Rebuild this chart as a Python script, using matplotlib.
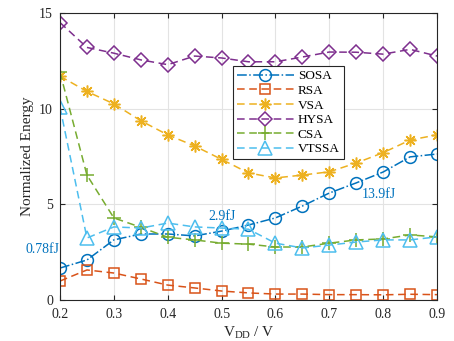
import numpy as np
import matplotlib.pyplot as plt

plt.rcParams['font.family'] = ['Liberation Serif', 'DejaVu Serif']
plt.rcParams['mathtext.fontset'] = 'custom'
plt.rcParams['mathtext.rm'] = 'Liberation Serif'

# supply voltage (V)
vdd = [0.2, 0.25, 0.3, 0.35, 0.4, 0.45, 0.5, 0.55, 0.6, 0.65, 0.7, 0.75, 0.8, 0.85, 0.9]

# normalized energy per architecture
sosa = [1.67, 2.09, 3.14, 3.45, 3.45, 3.35, 3.6, 3.92, 4.29, 4.91, 5.59, 6.12, 6.69, 7.48, 7.63]
rsa = [0.99, 1.57, 1.41, 1.1, 0.78, 0.63, 0.47, 0.37, 0.31, 0.31, 0.28, 0.28, 0.27, 0.3, 0.28]
vsa = [11.7, 10.9, 10.25, 9.37, 8.63, 8.05, 7.35, 6.64, 6.38, 6.53, 6.7, 7.16, 7.7, 8.36, 8.63]
hysa = [14.5, 13.2, 12.9, 12.55, 12.3, 12.75, 12.65, 12.45, 12.45, 12.7, 12.96, 12.95, 12.85, 13.1, 12.75]
csa = [11.9, 6.53, 4.29, 3.8, 3.28, 3.14, 2.97, 2.92, 2.77, 2.77, 2.97, 3.14, 3.19, 3.4, 3.3]
vtssa = [10.08, 3.24, 3.82, 3.76, 4.02, 3.82, 3.76, 3.7, 2.97, 2.72, 2.87, 3.03, 3.14, 3.14, 3.3]

fig = plt.figure(figsize=(4.54, 3.41), dpi=100)
ax = fig.add_axes([60/454, 41/341, 377/454, 287/341])

ms = 8.5
lw = 1.1
dash = (0, (5, 3))
ax.plot(vdd, sosa, '-.o', color='#0072BD', mfc='none', ms=ms, lw=lw, mew=lw, label='SOSA')
ax.plot(vdd, rsa, marker='s', ls=dash, color='#D95319', mfc='none', ms=ms - 1, lw=lw, mew=lw, label='RSA')
ax.plot(vdd, vsa, marker=(8, 2, 0), ls=dash, color='#EDB120', ms=ms, lw=lw, mew=lw, label='VSA')
ax.plot(vdd, hysa, marker='D', ls=dash, color='#7E2F8E', mfc='none', ms=ms - 1, lw=lw, mew=lw, label='HYSA')
ax.plot(vdd, csa, marker='+', ls=dash, color='#77AC30', ms=ms + 2, lw=lw, mew=lw, label='CSA')
ax.plot(vdd, vtssa, marker='^', ls=dash, color='#4DBEEE', mfc='none', ms=ms + 1, lw=lw, mew=lw, label='VTSSA')

ax.text(0.2, 2.3, '0.78fJ', color='#0072BD', fontsize=10, ha='right', va='bottom')
ax.text(0.5, 4.0, '2.9fJ', color='#0072BD', fontsize=10, ha='center', va='bottom')
ax.text(0.76, 5.2, '13.9fJ', color='#0072BD', fontsize=10, ha='left', va='bottom')

ax.set_xlim(0.2, 0.9)
ax.set_ylim(0, 15)
ax.set_xticks(np.arange(0.2, 0.91, 0.1))
ax.set_xticklabels(['0.2', '0.3', '0.4', '0.5', '0.6', '0.7', '0.8', '0.9'])
ax.set_yticks([0, 5, 10, 15])
ax.tick_params(direction='in', labelsize=10, colors='#262626', top=True, right=True)
ax.tick_params(axis='x', pad=6)
ax.tick_params(axis='y', pad=5)
ax.grid(True, color='#e3e3e3', lw=0.8)
ax.set_axisbelow(True)
for s in ax.spines.values():
    s.set_color('#262626')
    s.set_linewidth(0.8)

ax.set_xlabel(r'V$_{\mathrm{DD}}$ / V', fontsize=11, color='#262626', labelpad=2)
ax.set_ylabel('Normalized Energy', fontsize=11, color='#262626')

leg = ax.legend(loc='upper left', bbox_to_anchor=(0.459, 0.815), borderaxespad=0,
                fontsize=9.5, handlelength=4.3, fancybox=False, framealpha=1,
                edgecolor='#262626', borderpad=0.3, labelspacing=0.18, handletextpad=0.3)
leg.get_frame().set_linewidth(0.8)

fig.savefig('out.png', dpi=100)
